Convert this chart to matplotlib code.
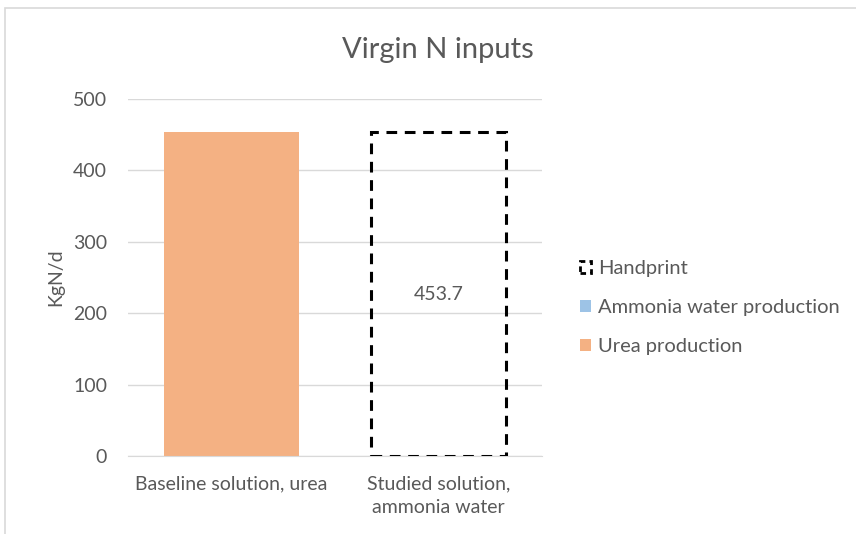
import matplotlib
matplotlib.use("Agg")
import matplotlib.pyplot as plt
from matplotlib.patches import Patch, Rectangle

categories = ["Baseline solution, urea", "Studied solution,\nammonia water"]
urea = [453.7, 0.0]
ammonia = [0.0, 0.0]
handprint = [0.0, 453.7]
handprint_label = "453.7"

plt.rcParams['font.family'] = ['Lato', 'DejaVu Sans']
gray = "#595959"
grid = "#d9d9d9"
fs = 14

W, H = 856, 534
fig = plt.figure(figsize=(W/100, H/100), dpi=100)
fig.add_artist(Rectangle((5/W, -0.05), 1.0, 1.05 - 8/H, transform=fig.transFigure,
                         fill=False, edgecolor="#d9d9d9", linewidth=1.2))
ax = fig.add_axes([128/W, 1 - 456/H, (542-128)/W, (456-99)/H])

x = [0, 1]
bw = 0.65
ax.bar(x, urea, bw, color="#f4b183", label="Urea production", zorder=2)
ax.bar(x, ammonia, bw, bottom=urea, color="#9dc3e6", label="Ammonia water production", zorder=2)
bottoms = [u + a for u, a in zip(urea, ammonia)]
for xi, h, b in zip(x, handprint, bottoms):
    if h > 0:
        ax.bar(xi, h, bw, bottom=b, fill=False, edgecolor="black",
               linestyle=(0, (3.5, 2.5)), linewidth=2.2, zorder=3)
        ax.text(xi, b + h / 2, handprint_label, ha="center", va="center",
                color=gray, fontsize=fs)

ax.set_ylim(0, 500)
ax.set_xlim(-0.5, 1.5)
ax.set_yticks(range(0, 501, 100))
ax.yaxis.grid(True, color=grid, linewidth=1, zorder=0)
ax.set_axisbelow(True)
for s in ["top", "right", "left"]:
    ax.spines[s].set_visible(False)
ax.spines["bottom"].set_color(grid)
ax.tick_params(axis="both", length=0, colors=gray, labelsize=fs)
ax.tick_params(axis="y", pad=15)
ax.tick_params(axis="x", pad=14)
ax.set_xticks(x)
ax.set_xticklabels(categories, linespacing=1.45)
ax.set_ylabel("KgN/d", color=gray, fontsize=fs, labelpad=6)
fig.text(438/W, 1 - 50/H, "Virgin N inputs", ha="center", va="center",
         color=gray, fontsize=21)

handles = [
    Patch(facecolor="none", edgecolor="black", linestyle=(0, (2, 1.5)), linewidth=2, label="Handprint"),
    Patch(facecolor="#9dc3e6", label="Ammonia water production"),
    Patch(facecolor="#f4b183", label="Urea production"),
]
leg = fig.legend(handles=handles, loc="upper left", bbox_to_anchor=(570/W, 1 - 250/H),
                 frameon=False, fontsize=14.5, labelcolor=gray, handlelength=0.55,
                 handleheight=0.55, handletextpad=0.35, labelspacing=1.1,
                 borderpad=0)

fig.savefig("out.png", dpi=100)
